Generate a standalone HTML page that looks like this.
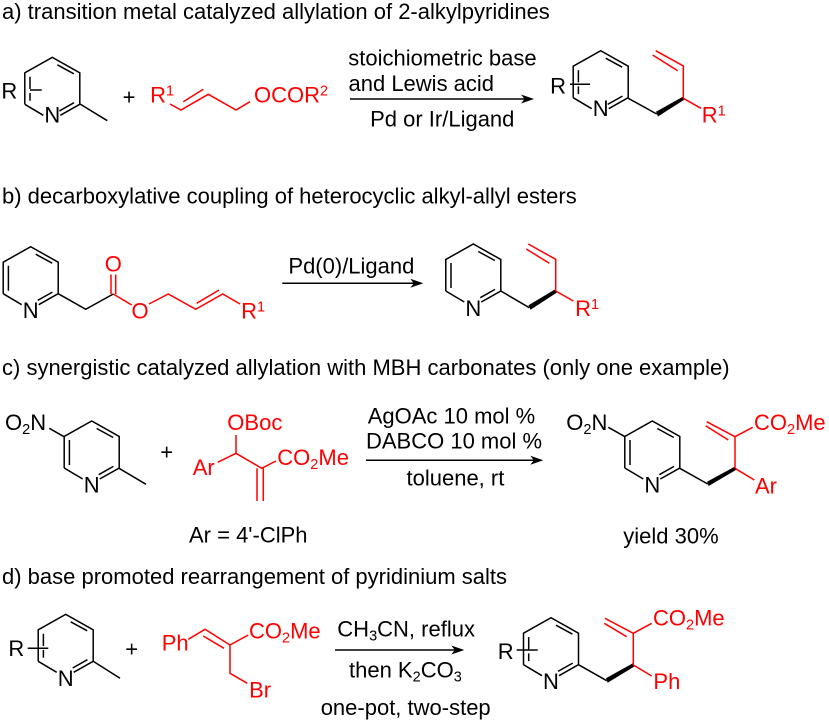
<!DOCTYPE html>
<html><head><meta charset="utf-8"><style>
html,body{margin:0;padding:0;background:#fff}
svg{display:block}
text{font-family:"Liberation Sans",sans-serif;font-size:22px;fill:#000}
.r text,text.r,.r tspan{fill:#f00}
.s{font-size:14.5px}
.m{text-anchor:middle}
path{fill:none;stroke:#000;stroke-width:1.5}
.r path{stroke:#f00}
path.w{fill:#000;stroke:none}
path.h{fill:#000;stroke:none}
</style></head><body>
<svg width="829" height="723" viewBox="0 0 829 723" xmlns="http://www.w3.org/2000/svg">
<defs>
<path id="base" d="M-27.5 47V15.5L0 0L27.5 15.5V47L8 58M-27.5 47L-9 58M5 7.5L21.5 16.5M7 53.7L21.7 45.4"/>
<g id="ringR"><use href="#base"/><path d="M-22.3 19.4V31.7M-22.3 35.7V43.4"/></g>
<g id="ringL"><use href="#base"/><path d="M-22.3 19V44"/></g>
</defs>

<text x="2" y="19">a) transition metal catalyzed allylation of 2-alkylpyridines</text>
<text x="2" y="203.3">b) decarboxylative coupling of heterocyclic alkyl-allyl esters</text>
<text x="2" y="375">c) synergistic catalyzed allylation with MBH carbonates (only one example)</text>
<text x="2" y="584">d) base promoted rearrangement of pyridinium salts</text>

<!-- a reactant -->
<use href="#ringR" x="52.3" y="57.3"/>
<path d="M80 104L107.3 120.7M30 90H41.7"/>
<text x="1.4" y="98.3">R</text>
<text class="m" x="52.3" y="122.7">N</text>
<text class="m" x="129" y="104.5">+</text>
<g class="r">
<path d="M170 104L181 110L208.3 94.3L236 110L250 101.7M183.3 101.7L203.3 89.3"/>
<text x="150.1" y="102.7">R<tspan class="s" dy="-7">1</tspan></text>
<text x="254" y="102.7">OCOR<tspan class="s" dy="-7">2</tspan></text>
</g>
<text x="348.3" y="65.7">stoichiometric base</text>
<text x="348.5" y="91">and Lewis acid</text>
<text x="370.1" y="126.7">Pd or Ir/Ligand</text>
<path d="M350 99H525"/><path class="h" d="M534 99L521 94.5L524.5 99L521 103.5Z"/>
<!-- a product -->
<use href="#ringR" x="600.7" y="50.7"/>
<path d="M570 84.3H590M628.3 98.3L656.7 114"/>
<path class="w" d="M656 111.8L683.3 96.5L684.5 99.5L658 116.5Z"/>
<text x="550.1" y="93.3">R</text>
<text class="m" x="600.7" y="116">N</text>
<g class="r">
<path d="M683.3 98.3V66L655.7 50.7M677.7 70.7L652.7 55M683.3 98.3L701 108.3"/>
<text x="701.7" y="122.7">R<tspan class="s" dy="-7">1</tspan></text>
</g>

<!-- b reactant -->
<use href="#ringL" x="30.7" y="246.7"/>
<path d="M58.2 293.7L85.7 309.3L113.3 294"/>
<text class="m" x="30.7" y="317.8">N</text>
<g class="r">
<path d="M111 294V274.5M115.7 294V274.5M113.3 294L131.7 305M149 304L168.3 294L195.7 309.3L222.7 294L240 304M196.7 303.3L219 290"/>
<text class="m" x="113.3" y="271.7">O</text>
<text class="m" x="140" y="318.3">O</text>
<text x="241.1" y="318.3">R<tspan class="s" dy="-7">1</tspan></text>
</g>
<text x="288.4" y="273.3">Pd(0)/Ligand</text>
<path d="M282.3 283.3H415"/><path class="h" d="M423.3 283.3L410.3 278.8L413.8 283.3L410.3 287.8Z"/>
<!-- b product -->
<use href="#ringL" x="473.3" y="244"/>
<path d="M500.8 291L529.3 307.7"/>
<path class="w" d="M528.5 305.3L555.7 289L557 292.5L530.5 309.8Z"/>
<text class="m" x="473.3" y="316">N</text>
<g class="r">
<path d="M555.7 291V259.3L528.3 244M549.3 263.3L526.3 249M555.7 291L573.3 301"/>
<text x="575.1" y="316">R<tspan class="s" dy="-7">1</tspan></text>
</g>

<!-- c reactant -->
<use href="#ringL" x="91.7" y="421"/>
<path d="M119 468.3L146 484.3M64 436.7L49.3 428.3"/>
<text x="5" y="430">O<tspan class="s" dy="4">2</tspan><tspan dy="-4">N</tspan></text>
<text class="m" x="91.7" y="492.3">N</text>
<text class="m" x="166.7" y="459.5">+</text>
<g class="r">
<path d="M217.7 462.3L236 453.3V435M236 453.3L261.7 468.3L276 461M257 468.3V501M263.3 468.3V501"/>
<text x="192.7" y="475">Ar</text>
<text x="227.3" y="430">OBoc</text>
<text x="277.3" y="465">CO<tspan class="s" dy="4">2</tspan><tspan dy="-4">Me</tspan></text>
</g>
<text x="189" y="542.3">Ar = 4'-ClPh</text>
<text x="367.7" y="423.3">AgOAc 10 mol %</text>
<text x="366" y="448.3">DABCO 10 mol %</text>
<text x="406.5" y="485.7">toluene, rt</text>
<path d="M366 460.3H535"/><path class="h" d="M543.3 460.3L530.3 455.8L533.8 460.3L530.3 464.8Z"/>
<!-- c product -->
<use href="#ringL" x="652.3" y="421"/>
<path d="M625 436.7L608.3 427.3M679.8 468.3L707.7 484"/>
<path class="w" d="M707 481.7L735 466.5L736.3 469.8L708.7 486Z"/>
<text x="566.3" y="430">O<tspan class="s" dy="4">2</tspan><tspan dy="-4">N</tspan></text>
<text class="m" x="652.3" y="492.3">N</text>
<g class="r">
<path d="M735 468.3V436.7L706.7 421.7M728.3 440L705.7 425.7M735 436.7L752.7 427.3M735 468.3L754.3 480"/>
<text x="754" y="430">CO<tspan class="s" dy="4">2</tspan><tspan dy="-4">Me</tspan></text>
<text x="755" y="493.3">Ar</text>
</g>
<text x="623.3" y="543.3">yield 30%</text>

<!-- d reactant -->
<use href="#ringR" x="65.7" y="614.3"/>
<path d="M93.2 661.3L120 678.3M27.7 648.3H48.3"/>
<text x="8.4" y="656">R</text>
<text class="m" x="65.7" y="686">N</text>
<text class="m" x="131.7" y="656.5">+</text>
<g class="r">
<path d="M188.3 639.3L205 629.3L230 645M203.3 636L224 648.3M230 645L248.3 635M230 645V673.3L247.3 683.3"/>
<text x="161.7" y="650.7">Ph</text>
<text x="249" y="638.3">CO<tspan class="s" dy="4">2</tspan><tspan dy="-4">Me</tspan></text>
<text x="249.1" y="697.3">Br</text>
</g>
<text x="337.3" y="636.7">CH<tspan class="s" dy="4">3</tspan><tspan dy="-4">CN, reflux</tspan></text>
<text x="349" y="677.3">then K<tspan class="s" dy="4">2</tspan><tspan dy="-4">CO</tspan><tspan class="s" dy="4">3</tspan></text>
<text x="320.7" y="715">one-pot, two-step</text>
<path d="M335 650H456"/><path class="h" d="M464.3 650L451.3 645.5L454.8 650L451.3 654.5Z"/>
<!-- d product -->
<use href="#ringR" x="551" y="617.7"/>
<path d="M516.7 650H537.7M578.5 664.7L606.7 680.7"/>
<path class="w" d="M606 678.3L633.3 663L634.6 666.4L607.6 682.8Z"/>
<text x="497.7" y="659">R</text>
<text class="m" x="551" y="689">N</text>
<g class="r">
<path d="M633.3 665V633.3L605 618.3M626.7 636.7L604.3 623.3M633.3 633.3L651.7 623.3M633.3 665L651.7 676"/>
<text x="653" y="625.7">CO<tspan class="s" dy="4">2</tspan><tspan dy="-4">Me</tspan></text>
<text x="653.4" y="689">Ph</text>
</g>
</svg>
</body></html>
